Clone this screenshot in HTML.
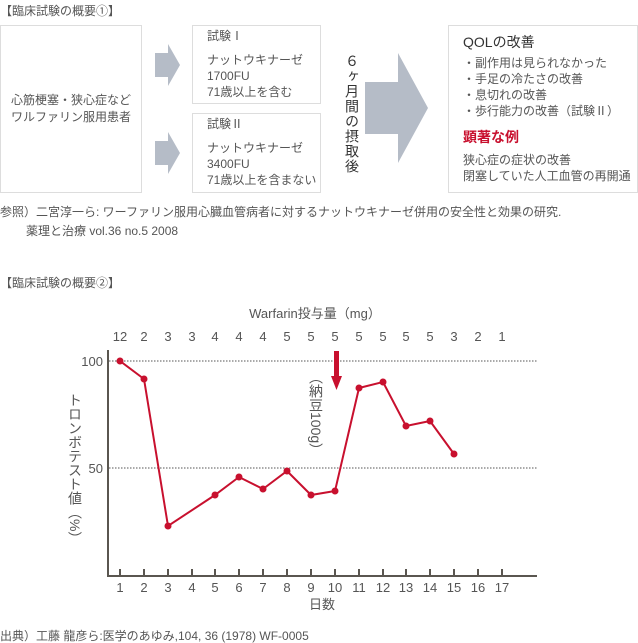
<!DOCTYPE html>
<html><head><meta charset="utf-8"><style>
body{margin:0;width:638px;height:643px;background:#fff;position:relative;font-family:"Liberation Sans","Noto Sans CJK JP",sans-serif;color:#555;font-size:12px;overflow:hidden}
.a{position:absolute;white-space:nowrap}
.box{position:absolute;border:1px solid #ddd;box-sizing:border-box}
</style></head><body>
<div class="a" style="left:0;top:2px;font-size:12px">【臨床試験の概要①】</div>
<div class="box" style="left:0;top:25px;width:142px;height:168px"></div>
<div class="a" style="left:0;width:142px;text-align:center;top:92px;line-height:17px">心筋梗塞・狭心症など<br>ワルファリン服用患者</div>
<svg class="a" style="left:0;top:0" width="638" height="200">
<polygon points="155,53 168,53 168,44 180,65 168,86 168,77 155,77" fill="#b5bcc7"/>
<polygon points="155,141 168,141 168,132 180,153 168,174 168,165 155,165" fill="#b5bcc7"/>
<polygon points="365,82 398,82 398,53 428,108 398,163 398,134 365,134" fill="#b5bcc7"/>
</svg>
<div class="box" style="left:192px;top:25px;width:129px;height:79px"></div>
<div class="a" style="left:207px;top:28px;line-height:17px">試験Ⅰ</div>
<div class="a" style="left:207px;top:52px;line-height:16px">ナットウキナーゼ<br>1700FU<br>71歳以上を含む</div>
<div class="box" style="left:192px;top:113px;width:129px;height:80px"></div>
<div class="a" style="left:207px;top:116px;line-height:17px">試験Ⅱ</div>
<div class="a" style="left:207px;top:140px;line-height:16px">ナットウキナーゼ<br>3400FU<br>71歳以上を含まない</div>
<div class="a" style="left:343px;top:54px;writing-mode:vertical-rl;text-orientation:upright;font-size:14px;line-height:18px;color:#333;letter-spacing:1px">６ヶ月間の摂取後</div>
<div class="box" style="left:448px;top:25px;width:190px;height:168px"></div>
<div class="a" style="left:463px;top:32px;font-size:14px;color:#333">QOLの改善</div>
<div class="a" style="left:463px;top:55px;line-height:16px">・副作用は見られなかった<br>・手足の冷たさの改善<br>・息切れの改善<br>・歩行能力の改善（試験Ⅱ）</div>
<div class="a" style="left:463px;top:127px;font-size:14px;color:#c8102e;font-weight:bold">顕著な例</div>
<div class="a" style="left:463px;top:152px;line-height:16px">狭心症の症状の改善<br>閉塞していた人工血管の再開通</div>
<div class="a" style="left:0;top:203px">参照）二宮淳一ら: ワーファリン服用心臓血管病者に対するナットウキナーゼ併用の安全性と効果の研究.</div>
<div class="a" style="left:26px;top:222px">薬理と治療 vol.36 no.5 2008</div>
<div class="a" style="left:0;top:274px">【臨床試験の概要②】</div>
<svg class="a" style="left:0;top:0" width="638" height="643" font-family="Liberation Sans, Noto Sans CJK JP, sans-serif" font-size="13" fill="#555">
<text x="315" y="318" text-anchor="middle">Warfarin投与量（mg）</text>
<g text-anchor="middle">
<text x="120" y="341">12</text><text x="144" y="341">2</text><text x="168" y="341">3</text><text x="192" y="341">3</text><text x="215" y="341">4</text><text x="239" y="341">4</text><text x="263" y="341">4</text><text x="287" y="341">5</text><text x="311" y="341">5</text><text x="335" y="341">5</text><text x="359" y="341">5</text><text x="383" y="341">5</text><text x="406" y="341">5</text><text x="430" y="341">5</text><text x="454" y="341">3</text><text x="478" y="341">2</text><text x="502" y="341">1</text>
<text x="120" y="592">1</text><text x="144" y="592">2</text><text x="168" y="592">3</text><text x="192" y="592">4</text><text x="215" y="592">5</text><text x="239" y="592">6</text><text x="263" y="592">7</text><text x="287" y="592">8</text><text x="311" y="592">9</text><text x="335" y="592">10</text><text x="359" y="592">11</text><text x="383" y="592">12</text><text x="406" y="592">13</text><text x="430" y="592">14</text><text x="454" y="592">15</text><text x="478" y="592">16</text><text x="502" y="592">17</text>
<text x="322" y="609">日数</text>
</g>
<text x="103" y="366" text-anchor="end">100</text>
<text x="103" y="473" text-anchor="end">50</text>
<line x1="109" y1="361" x2="537" y2="361" stroke="#555" stroke-dasharray="1.5,1.5"/>
<line x1="109" y1="468" x2="537" y2="468" stroke="#555" stroke-dasharray="1.5,1.5"/>
<g stroke="#5a5650" stroke-width="2">
<line x1="108" y1="350" x2="108" y2="577"/><line x1="107" y1="576" x2="537" y2="576"/>
<path d="M120 569V576M144 569V576M168 569V576M192 569V576M215 569V576M239 569V576M263 569V576M287 569V576M311 569V576M335 569V576M359 569V576M383 569V576M406 569V576M430 569V576M454 569V576M478 569V576M502 569V576"/>
</g>
<g font-size="14">
<text x="75" y="393" style="writing-mode:vertical-rl">トロンボテスト値（%）</text>
<text x="316" y="370" style="writing-mode:vertical-rl">（納豆100g）</text>
</g>
<rect x="334" y="351" width="5" height="26" fill="#c8102e"/>
<polygon points="331,376 342,376 336.5,390" fill="#c8102e"/>
<polyline fill="none" stroke="#c8102e" stroke-width="2" points="120,361 144,379 168,526 215,495 239,477 263,489 287,471 311,495 335,491 359,388 383,382 406,426 430,421 454,454"/>
<g fill="#c8102e">
<circle cx="120" cy="361" r="3.5"/><circle cx="144" cy="379" r="3.5"/><circle cx="168" cy="526" r="3.5"/><circle cx="215" cy="495" r="3.5"/><circle cx="239" cy="477" r="3.5"/><circle cx="263" cy="489" r="3.5"/><circle cx="287" cy="471" r="3.5"/><circle cx="311" cy="495" r="3.5"/><circle cx="335" cy="491" r="3.5"/><circle cx="359" cy="388" r="3.5"/><circle cx="383" cy="382" r="3.5"/><circle cx="406" cy="426" r="3.5"/><circle cx="430" cy="421" r="3.5"/><circle cx="454" cy="454" r="3.5"/>
</g>
<text x="0" y="640" font-size="12">出典）工藤 龍彦ら:医学のあゆみ,104, 36 (1978) WF-0005</text>
</svg>
</body></html>
